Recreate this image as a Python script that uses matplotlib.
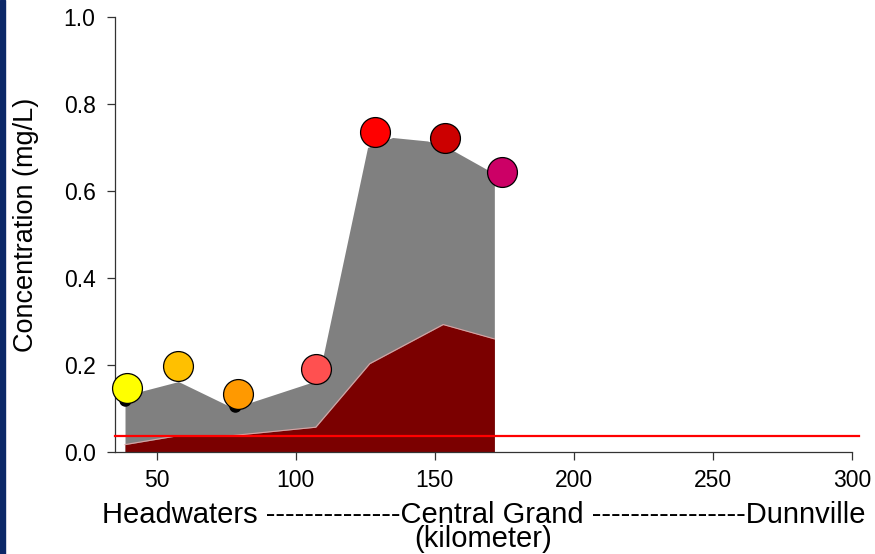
import matplotlib
matplotlib.use("Agg")
import matplotlib.pyplot as plt
from matplotlib.patches import Rectangle

plt.rcParams['font.family'] = ['Liberation Sans', 'DejaVu Sans']

# Upper (grey) band: total concentration envelope along the river
grey_km = [38.6, 57.8, 77.5, 108.0, 125.8, 134.8, 147.4, 156.3, 171.4]
grey_conc = [0.13, 0.162, 0.101, 0.165, 0.70, 0.723, 0.715, 0.694, 0.640]

# Lower (dark red) band
red_km = [38.6, 57.2, 77.5, 107.2, 126.6, 153.0, 171.4]
red_conc = [0.017, 0.037, 0.038, 0.057, 0.203, 0.293, 0.260]

# Sampling stations
site_km = [39.2, 57.8, 79.1, 107.2, 128.6, 153.5, 174.1]
site_conc = [0.148, 0.198, 0.133, 0.190, 0.736, 0.722, 0.644]
site_colors = ['#FFFF00', '#FFC000', '#FF9900', '#FF5050', '#FF0000', '#CC0000', '#CC0066']

# Small black markers partly hidden behind stations
dot_km = [38.6, 78.1]
dot_conc = [0.12, 0.105]

guideline = 0.037

x_ticks = [50, 100, 150, 200, 250, 300]
y_ticks = [0.0, 0.2, 0.4, 0.6, 0.8, 1.0]

fig = plt.figure(figsize=(8.75, 5.54), dpi=100)
fig.patches.append(Rectangle((0, 0), 5 / 875, 1, transform=fig.transFigure,
                             color='#0c2868', zorder=0))
ax = fig.add_axes([115 / 875, 1 - 452 / 554, (852 - 115) / 875, (452 - 17) / 554])

ax.fill_between(grey_km, 0, grey_conc, color='#808080', linewidth=0, zorder=1)
ax.fill_between(red_km, 0, red_conc, color='#7B0000', linewidth=0, zorder=2)
ax.plot(red_km, red_conc, color='#d9a3a3', linewidth=0.8, zorder=3)

ax.axhline(guideline, xmin=0, xmax=1.01, color='#FF0000', linewidth=1.6,
           clip_on=False, zorder=4)

ax.plot(dot_km, dot_conc, 'o', color='black', markersize=8, zorder=5)
for k, c, col in zip(site_km, site_conc, site_colors):
    ax.plot([k], [c], 'o', markersize=21.5, markerfacecolor=col,
            markeredgecolor='black', markeredgewidth=0.9, zorder=6, clip_on=False)

ax.set_xlim(35, 300)
ax.set_ylim(0, 1.0)
ax.set_xticks(x_ticks)
ax.set_yticks(y_ticks)
ax.set_yticklabels([f'{v:.1f}' for v in y_ticks])
for s in ['top', 'right']:
    ax.spines[s].set_visible(False)
for s in ['left', 'bottom']:
    ax.spines[s].set_color('#333333')
    ax.spines[s].set_linewidth(0.9)
ax.tick_params(axis='both', direction='out', length=6, width=0.9, color='#333333',
               labelsize=16.5, pad=6)
ax.tick_params(axis='y', pad=8)

ax.set_ylabel('Concentration (mg/L)', fontsize=19.5)
ax.yaxis.set_label_coords(-0.103, 0.522)
ax.set_xlabel('Headwaters --------------Central Grand ----------------Dunnville\n(kilometer)',
              fontsize=21, linespacing=0.78, labelpad=7)

fig.savefig('out.png', dpi=100)
